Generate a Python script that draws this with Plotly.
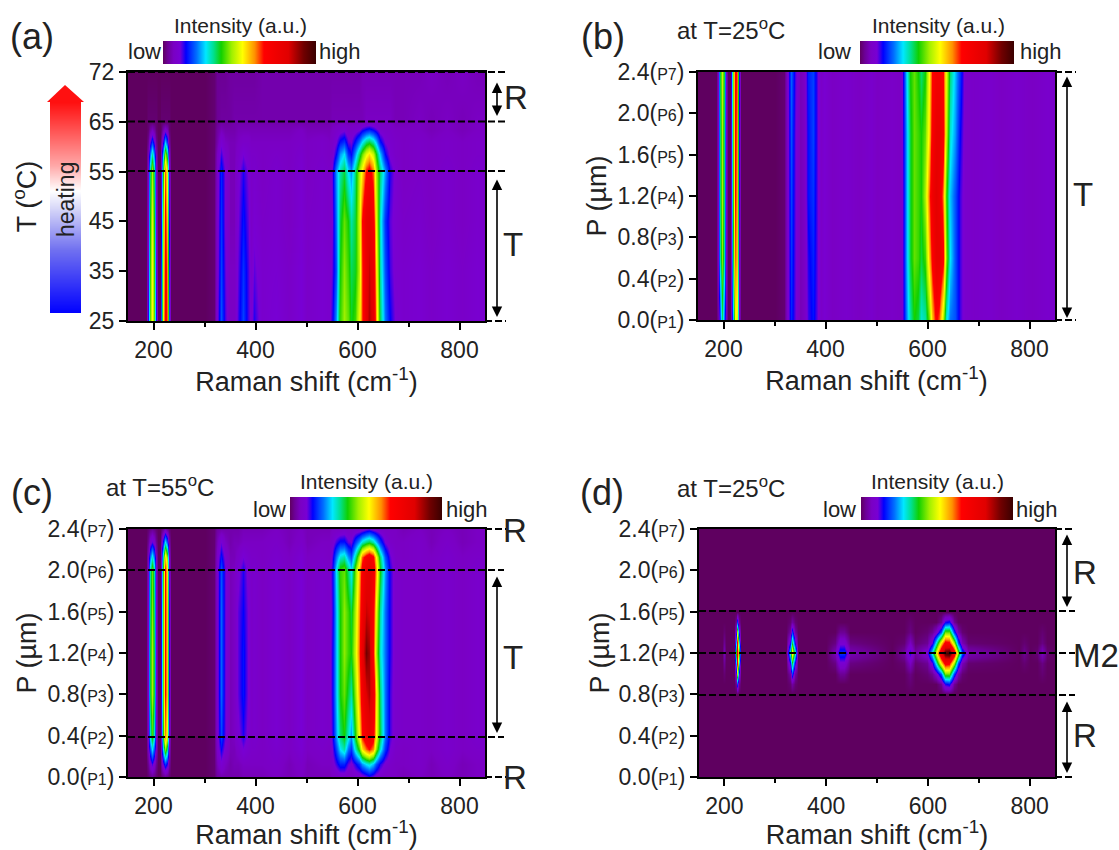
import plotly.graph_objects as go

W, H = 1119, 850
FONT = "Liberation Sans"
INK = "#222222"

# ---------- data (intensity in % of colour scale) ----------
raman = [150,186,190,194,197,200,204,208,
         212,215.5,219,222.5,226,229.5,234,300,
         318,325,332,341,350,358,366,375,
         386,392,398,412,440,465,490,500,530,545,
         550,558,566,574,581,588,595,602,
         609,616,623,630,637,645,653,663,
         674,690,720,745,775,805,835,850]

a_rows = [0, 1, 2, 3, 3.35, 3.6, 3.85, 4, 5]
a_ticks = ["25", "35", "45", "55", "65", "72"]
a_z = [
 [0,0,14,42,52,42,14,0, 0,20,50,72,62,20,0,0, 1,10,20,13,7,7,13,19, 13,10,14,9,11,8,11,8,10,9, 14,24,40,45,42,37,40,50, 64,80,86,80,58,35,22,15, 11,9,10,8,10,8,10,9],
 [0,0,12,40,52,40,12,0, 0,18,48,72,60,18,0,0, 1,9,19,12,7,7,12,18, 13,9,12,9,10,8,11,8,10,9, 12,20,38,44,40,35,37,46, 64,78,84,78,54,32,20,13, 10,9,10,8,10,8,10,9],
 [0,0,10,38,50,38,10,0, 0,14,44,68,56,14,0,0, 1,9,18,11,6,6,11,16, 12,8,10,8,9,7,10,8,9,8, 11,22,36,42,38,32,36,48, 66,78,80,72,50,30,18,12, 10,8,9,7,9,7,9,8],
 [0,0,9,34,46,34,9,0, 0,12,38,62,50,12,0,0, 1,8,17,11,6,6,10,14, 11,8,9,7,9,7,10,7,9,8, 12,24,32,36,28,24,34,46, 54,66,70,62,46,34,24,14, 10,7,8,7,9,7,9,8],
 [0,0,6,22,32,22,6,0, 0,8,26,44,34,8,0,0, 1,7,13,9,6,6,8,11, 9,8,8,7,8,7,9,7,8,7, 9,15,24,28,18,15,24,34, 42,50,54,48,38,26,15,10, 8,7,8,7,8,7,8,8],
 [0,0,3,12,18,12,3,0, 0,4,14,26,18,4,0,0, 1,5,10,7,6,6,7,8, 8,7,7,7,7,7,8,7,8,7, 8,11,16,18,12,11,16,22, 28,34,36,32,26,16,11,9, 8,7,8,7,8,7,8,8],
 [0,0,1,4,6,4,1,0, 0,1,5,8,6,1,0,0, 1,4,6,5,5,5,6,6, 6,6,6,6,6,6,7,6,6,6, 7,8,9,10,8,8,9,10, 13,15,16,14,12,9,8,8, 7,7,7,6,7,6,7,7],
 [0,0,1,1,1,1,1,0, 0,1,1,1,1,1,0,0, 1,3,4,4,4,5,5,5, 5,5,5,5,5,5,5,5,5,5, 6,6,6,6,6,6,6,6, 6,7,7,7,7,7,7,7, 6,6,7,6,7,6,7,7],
 [0,0,0,0,0,0,0,0, 0,0,0,0,0,0,0,0, 1,3,3,3,4,4,4,4, 4,4,4,5,5,5,5,5,5,5, 5,5,5,5,5,5,5,5, 6,6,6,6,6,6,6,6, 6,6,6,7,6,7,6,6],
]

b_rows = [0, 0.6, 1.2, 1.8, 2.4]
b_z = [
 [0,0,4,20,34,22,6,0, 0,6,26,52,50,10,0,0, 1,8,17,12,6,7,13,16, 11,8,10,7,9,7,9,7,8,7, 10,22,32,38,36,30,32,42, 56,68,62,46,30,22,20,13, 9,8,9,7,9,7,9,8],
 [0,0,8,32,44,32,8,0, 0,10,36,62,56,12,0,0, 1,8,18,12,6,7,14,17, 11,8,10,7,9,7,9,7,8,7, 10,24,36,42,40,36,40,56, 68,78,78,68,44,28,20,13, 9,8,9,7,9,7,9,8],
 [0,0,8,34,46,34,8,0, 0,12,40,66,58,14,0,0, 1,8,19,12,6,7,16,18, 11,8,10,7,9,7,9,7,8,7, 10,24,36,42,40,38,46,62, 74,80,76,60,40,26,20,13, 9,8,9,7,9,7,9,8],
 [0,0,8,34,46,34,8,0, 0,12,42,68,60,14,0,0, 1,8,20,12,6,7,16,19, 11,8,10,7,9,7,9,7,8,7, 11,24,36,42,40,38,42,54, 70,78,78,70,48,30,24,15, 9,8,9,7,9,7,9,8],
 [0,0,8,36,48,36,8,0, 0,14,44,70,62,16,0,0, 1,8,21,13,6,7,17,19, 11,8,10,7,9,7,9,7,8,7, 11,26,38,42,38,34,38,52, 66,72,72,66,50,34,26,18, 9,8,9,7,9,7,9,8],
]

c_rows = [0, 0.13, 0.27, 0.4, 0.8, 1.2, 1.6, 2.0, 2.13, 2.27, 2.4]
c_z = [
 [0,0,1,2,3,2,1,0, 0,1,2,3,2,1,0,0, 1,4,5,5,5,5,5,6, 6,6,6,6,7,6,7,6,6,6, 7,7,8,8,7,7,8,8, 9,11,13,11,9,8,7,7, 7,6,7,6,7,6,7,7],
 [0,0,3,9,13,9,3,0, 0,4,12,18,14,4,0,0, 1,6,10,7,5,6,6,7, 7,7,7,7,8,6,8,6,7,7, 9,13,17,17,12,10,14,18, 24,28,30,26,20,14,10,8, 7,7,8,6,8,6,7,7],
 [0,0,7,20,28,20,7,0, 0,8,28,44,34,8,0,0, 1,8,15,10,6,6,8,11, 9,8,8,7,9,7,10,7,8,7, 11,19,28,32,22,18,30,40, 54,62,66,60,44,30,18,11, 8,7,8,7,9,7,8,8],
 [0,0,9,30,40,30,9,0, 0,12,38,60,50,12,0,0, 1,9,19,12,6,7,10,14, 10,8,9,7,10,7,11,7,9,8, 13,24,34,38,30,24,38,52, 66,74,78,70,52,36,22,13, 9,8,8,7,9,7,9,8],
 [0,0,10,36,46,36,10,0, 0,14,42,66,56,14,0,0, 1,9,21,12,6,7,12,16, 11,8,9,7,10,7,11,7,9,8, 14,26,38,42,36,32,44,58, 72,82,86,76,54,34,22,13, 9,8,8,7,9,7,9,8],
 [0,0,10,36,46,36,10,0, 0,14,42,66,56,14,0,0, 1,9,21,12,6,7,12,16, 11,8,9,7,10,7,11,7,9,8, 14,26,38,44,40,38,48,62, 78,92,88,68,46,30,22,14, 9,8,8,7,9,7,9,8],
 [0,0,10,34,44,34,10,0, 0,14,42,66,56,14,0,0, 1,9,21,12,6,7,12,15, 11,8,9,7,10,7,11,7,9,8, 13,26,38,44,40,36,46,60, 74,84,82,70,50,32,22,14, 9,8,8,7,9,7,9,8],
 [0,0,9,32,42,32,9,0, 0,12,40,66,54,12,0,0, 1,9,20,12,6,7,10,14, 10,8,9,7,10,7,11,7,9,8, 14,28,40,42,34,28,42,56, 70,78,80,74,58,38,24,14, 9,8,8,7,9,7,9,8],
 [0,0,7,22,30,22,7,0, 0,10,32,55,44,10,0,0, 1,8,16,10,6,6,8,11, 9,8,8,7,9,7,10,7,8,7, 12,22,30,32,24,20,32,46, 62,70,74,68,52,34,20,12, 8,7,8,7,9,7,8,8],
 [0,0,3,9,12,9,3,0, 0,5,16,28,20,5,0,0, 1,6,11,7,5,6,6,7, 7,7,7,7,8,6,8,6,7,7, 9,13,16,16,12,11,18,24, 30,34,36,32,26,18,11,8, 7,7,8,6,8,6,7,7],
 [0,0,1,2,3,2,1,0, 0,1,3,6,3,1,0,0, 1,4,5,5,5,5,5,6, 6,6,6,6,7,6,7,6,6,6, 7,7,7,8,7,7,8,8, 9,11,12,10,9,8,7,7, 7,6,7,6,7,6,7,7],
]

d_raman = [150,196,200,204,218,222,225,228,232,300,322,328,333,338,344,400,418,428,436,446,
           530,554,564,574,598,608,616,625,634,642,651,660,668,678,780,790,800,815,825,835,850]
d_rows = [0, 0.8, 0.9, 1.0, 1.1, 1.2, 1.3, 1.4, 1.5, 1.6, 2.4]
d_zero = [0]*41
d_z = [
 d_zero,
 d_zero,
 [0,0,0,0,0,3,18,3,0,0,0,1,4,1,0,0,0,0,0,0, 0,0,1,0,0,0,0,3,14,16,3,0,0,0,0,0,0,0,0,0,0],
 [0,0,1,0,0,12,46,12,0,0,0,4,18,4,0,0,0,3,3,0, 0,0,2,0,1,3,8,20,42,42,18,5,1,0,0,0,0,0,1,0,0],
 [0,0,3,0,0,26,68,26,0,0,0,14,36,14,0,0,2,10,10,2, 0,1,7,1,3,12,30,54,70,68,46,20,6,1,0,1,0,0,2,0,0],
 [0,0,6,0,0,40,80,40,0,0,0,30,55,30,0,0,6,18,18,6, 0,4,14,4,10,30,50,78,96,100,74,44,20,6,0,3,0,1,7,1,0],
 [0,0,3,0,0,26,68,26,0,0,0,14,36,14,0,0,2,10,10,2, 0,1,7,1,3,12,30,54,70,68,46,20,6,1,0,1,0,0,2,0,0],
 [0,0,1,0,0,12,46,12,0,0,0,4,18,4,0,0,0,3,3,0, 0,0,2,0,1,3,8,20,42,42,18,5,1,0,0,0,0,0,1,0,0],
 [0,0,0,0,0,3,18,3,0,0,0,1,4,1,0,0,0,0,0,0, 0,0,1,0,0,0,0,3,14,16,3,0,0,0,0,0,0,0,0,0,0],
 d_zero,
 d_zero,
]

p_values = [0, 0.4, 0.8, 1.2, 1.6, 2.0, 2.4]
p_names = ["0.0", "0.4", "0.8", "1.2", "1.6", "2.0", "2.4"]
p_labels = [f'{v}(<span style="font-size:16px">P{i+1}</span>)' for i, v in enumerate(p_names)]
heating_levels = [0, 1]

RAINBOW = [
    [0.00, "#5f0060"], [0.03, "#6c0095"], [0.07, "#7a00c4"], [0.11, "#7800d4"],
    [0.13, "#4000e8"], [0.15, "#0000ff"], [0.22, "#0070ff"], [0.28, "#00e8ff"], [0.33, "#00e090"],
    [0.38, "#10d000"], [0.45, "#a0f000"], [0.52, "#ffff00"], [0.60, "#ff9000"],
    [0.66, "#ff0000"], [0.82, "#e00000"], [0.92, "#700000"], [1.00, "#3a0000"],
]

# ---------- helpers ----------
def fx(px): return px / W
def fy(py): return 1 - py / H

fig = go.Figure()
shapes, notes = [], []

def note(x, y, text, size=20, **kw):
    notes.append(dict(x=fx(x), y=fy(y), xref="paper", yref="paper", text=text, showarrow=False,
                      font=dict(family=FONT, size=size, color=INK), xanchor="center", yanchor="middle", **kw))

def dashed(x0, x1, y):
    shapes.append(dict(type="line", xref="paper", yref="paper", x0=fx(x0), x1=fx(x1), y0=fy(y), y1=fy(y),
                       line=dict(color="black", width=2, dash="7px,3px")))

def double_arrow(x, y0, y1):
    notes.append(dict(x=fx(x), y=fy(y1), xref="paper", yref="paper", ax=0, ay=y0 - y1, axref="pixel", ayref="pixel",
                      text="", showarrow=True, arrowhead=2, arrowside="end+start", arrowsize=1.3, arrowwidth=1.6,
                      arrowcolor="black"))

def panel(i, box, xs, ys, z, yrange, ytickvals, yticktext, ytitle, standoff, cbar):
    L, T, R, B = box
    ax = "" if i == 1 else str(i)
    fig.add_trace(go.Heatmap(
        x=xs, y=ys, z=z, zmin=0, zmax=100, zsmooth="best", colorscale=RAINBOW, xaxis="x"+ax, yaxis="y"+ax,
        colorbar=dict(orientation="h", x=fx(cbar[0]), xanchor="left", y=fy(cbar[1]+cbar[2]), yanchor="bottom",
                      lenmode="pixels", len=cbar[3], thicknessmode="pixels", thickness=cbar[2],
                      xpad=0, ypad=0, outlinewidth=0, showticklabels=False, ticks=""),
        hoverinfo="skip"))
    axis_font = dict(family=FONT, size=23, color=INK)
    fig.update_layout({
        "xaxis"+ax: dict(domain=[fx(L), fx(R)], range=[150, 850], anchor="y"+ax, tickvals=[200, 400, 600, 800],
                         ticks="outside", ticklen=7, tickwidth=2, tickcolor="black", showline=True, linewidth=2,
                         linecolor="black", mirror=True, showgrid=False, zeroline=False, tickfont=axis_font,
                         minor=dict(tickvals=[300, 500, 700], ticks="outside", ticklen=4, tickwidth=2, tickcolor="black"),
                         title=dict(text="Raman shift (cm<sup>-1</sup>)", font=dict(family=FONT, size=27, color=INK), standoff=5)),
        "yaxis"+ax: dict(domain=[fy(B), fy(T)], range=yrange, anchor="x"+ax, tickvals=ytickvals, ticktext=yticktext,
                         ticks="outside", ticklen=7, tickwidth=2, tickcolor="black", showline=True, linewidth=2,
                         linecolor="black", mirror=True, showgrid=False, zeroline=False, tickfont=axis_font,
                         title=dict(text=ytitle, font=dict(family=FONT, size=27, color=INK), standoff=standoff)),
    })

# ---------- panels ----------
BOX_A = (128, 72, 485, 321)
BOX_B = (698, 72, 1055, 320)
BOX_C = (128, 529, 485, 777)
BOX_D = (699, 529, 1055, 777)

panel(1, BOX_A, raman, a_rows, a_z, [0, 5], [0, 1, 2, 3, 4, 5], a_ticks, "T (<sup>o</sup>C)", 44, (163, 41, 23, 153))
panel(2, BOX_B, raman, b_rows, b_z, [0, 2.4], p_values, p_labels, "P (µm)", 3, (860, 41, 23, 154))
panel(3, BOX_C, raman, c_rows, c_z, [0, 2.4], p_values, p_labels, "P (µm)", 3, (290, 497, 23, 152))
panel(4, BOX_D, d_raman, d_rows, d_z, [0, 2.4], p_values, p_labels, "P (µm)", 1, (861, 497, 23, 152))

# heating arrow: gradient shaft drawn as its own small heatmap
fig.add_trace(go.Heatmap(x=[0, 1], y=heating_levels, z=[[v, v] for v in heating_levels], zmin=0, zmax=1, zsmooth="best",
                         colorscale=[[0, "#0000ff"], [0.3, "#7070f0"], [0.5, "#d8d8f8"], [0.58, "#ffffff"],
                                     [0.7, "#ffa8a8"], [1, "#ff1010"]],
                         showscale=False, xaxis="x5", yaxis="y5", hoverinfo="skip"))
fig.update_layout(
    xaxis5=dict(domain=[fx(50), fx(81)], range=[0, 1], anchor="y5", visible=False),
    yaxis5=dict(domain=[fy(313), fy(102)], range=[0, 1], anchor="x5", visible=False),
)
shapes.append(dict(type="path", xref="paper", yref="paper", line=dict(width=0), fillcolor="#ff1010",
                   path=f"M {fx(47)} {fy(102)} L {fx(65)} {fy(85)} L {fx(84)} {fy(102)} Z"))
note(66, 200, "heating", 23, textangle=-90)

# panel letters and headings
note(32, 36, "(a)", 36); note(603, 36, "(b)", 36); note(32, 492, "(c)", 36); note(602, 492, "(d)", 36)
note(731, 29, "at T=25<sup>o</sup>C", 24); note(160, 486, "at T=55<sup>o</sup>C", 24); note(731, 487, "at T=25<sup>o</sup>C", 24)

for cx, cy, lx, hx in [(240, 25, 144, 340), (938, 25, 834, 1041), (366, 482, 269, 467), (937, 482, 840, 1037)]:
    note(cx, cy, "Intensity (a.u.)", 21)
    note(lx, cy + 27, "low", 22)
    note(hx, cy + 27, "high", 22)

# reference lines, ranges and state labels
dashed(128, 506, 72); dashed(128, 506, 121.5); dashed(128, 506, 171); dashed(485, 506, 321)
double_arrow(497, 81, 116); double_arrow(497, 178, 317)
note(516, 98, "R", 33); note(513, 245, "T", 33)

dashed(1055, 1076, 72); dashed(1055, 1076, 320)
double_arrow(1067, 75, 318)
note(1083, 195, "T", 33)

dashed(485, 506, 529); dashed(485, 506, 777); dashed(128, 504, 570); dashed(128, 504, 737)
double_arrow(497, 575, 733)
note(515, 530, "R", 33); note(515, 777, "R", 33); note(513, 657, "T", 33)

dashed(1055, 1075, 529); dashed(1055, 1075, 777); dashed(699, 1075, 611); dashed(699, 1075, 653); dashed(699, 1075, 695)
double_arrow(1067, 533, 607); double_arrow(1067, 700, 773)
note(1085, 572, "R", 33); note(1085, 735, "R", 33); note(1096, 655, "M2", 33)

fig.update_layout(width=W, height=H, autosize=False, margin=dict(l=0, r=0, t=0, b=0, autoexpand=False), paper_bgcolor="white",
                  plot_bgcolor="white", showlegend=False, shapes=shapes, annotations=notes,
                  font=dict(family=FONT, color=INK))
fig.write_html("out.html", config=dict(displayModeBar=False), post_script="document.body.style.margin='0';")
